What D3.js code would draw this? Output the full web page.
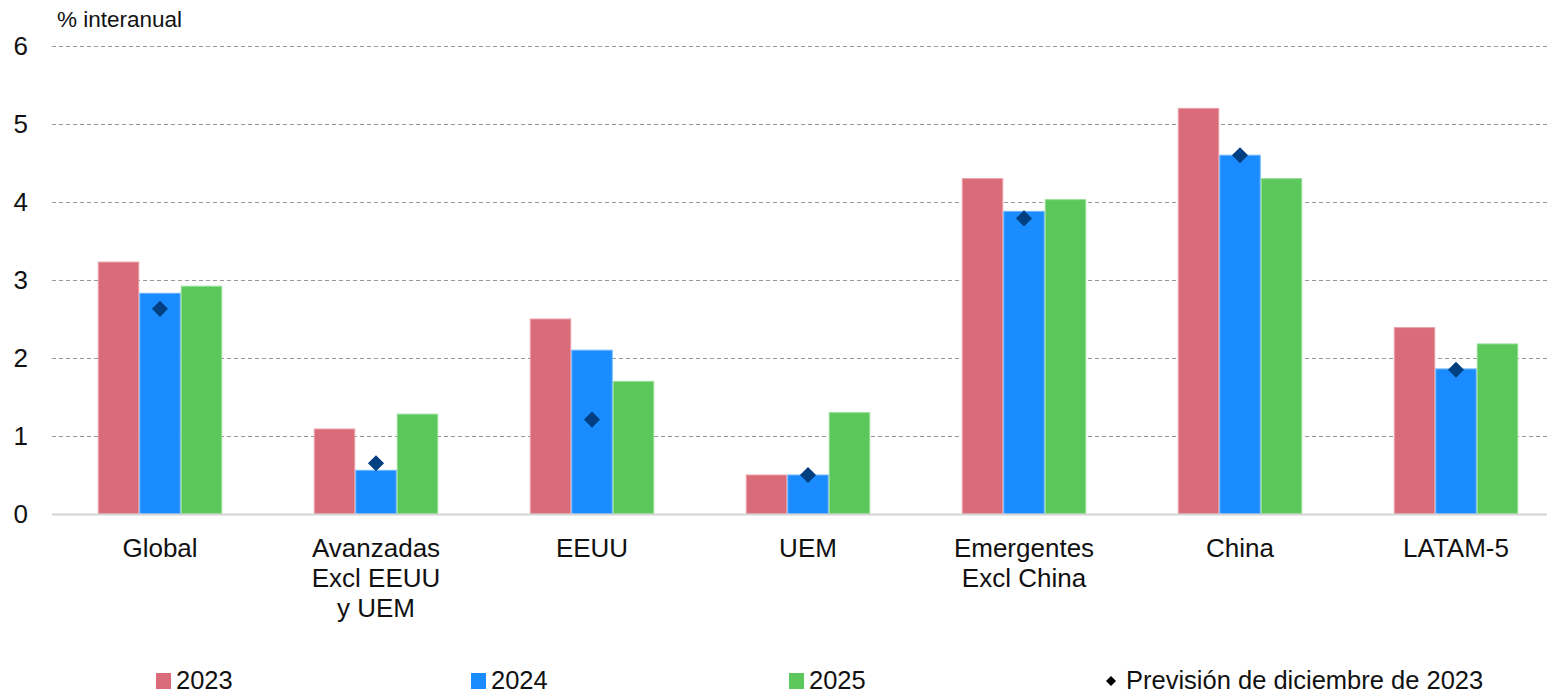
<!DOCTYPE html>
<html>
<head>
<meta charset="utf-8">
<script src="https://cdn.jsdelivr.net/npm/d3@7"></script>
<style>
  html, body { margin: 0; padding: 0; background: #fff; }
  svg { display: block; font-family: "Liberation Sans", Arial, Helvetica, sans-serif; }
</style>
</head>
<body>
<svg id="chart" width="1547" height="695"></svg>
<script>
const categories = ["Global", "Avanzadas\nExcl EEUU\ny UEM", "EEUU", "UEM", "Emergentes\nExcl China", "China", "LATAM-5"];
const seriesNames = ["2023", "2024", "2025"];
const values2023 = [3.23, 1.09, 2.50, 0.50, 4.30, 5.20, 2.39];
const values2024 = [2.83, 0.56, 2.10, 0.50, 3.88, 4.60, 1.86];
const values2025 = [2.92, 1.28, 1.70, 1.30, 4.03, 4.30, 2.18];
const forecastDec2023 = [2.63, 0.65, 1.21, 0.50, 3.79, 4.60, 1.85];
const yTicks = [0, 1, 2, 3, 4, 5, 6];
const unitLabel = "% interanual";
const forecastLabel = "Previsión de diciembre de 2023";

const colors = { "2023": "#DA6B79", "2024": "#1B8CFF", "2025": "#5CC85C" };
const strokes = { "2023": "#EAA0A9", "2024": "#6FB5FF", "2025": "#94DD94" };
const diamondColor = "#003F80";

const seriesValues = { "2023": values2023, "2024": values2024, "2025": values2025 };

const svg = d3.select("#chart");
const margin = { left: 52, right: 1564, top: 46, bottom: 514 };

const x = d3.scaleBand().domain(categories).range([margin.left, margin.right])
  .paddingInner(0.424).paddingOuter(0.212);
const xs = d3.scaleBand().domain(seriesNames).range([0, x.bandwidth()]).padding(0);
const y = d3.scaleLinear().domain([0, 6]).range([margin.bottom, margin.top]);

// Gridlines
const grid = svg.append("g");
grid.selectAll("line").data(yTicks.filter(d => d > 0)).join("line")
  .attr("x1", margin.left).attr("x2", 1547)
  .attr("y1", d => Math.round(y(d)) + 0.5).attr("y2", d => Math.round(y(d)) + 0.5)
  .attr("stroke", "#9a9a9a").attr("stroke-width", 1).attr("stroke-dasharray", "4,3");

// Y axis
const yAxis = svg.append("g").attr("transform", "translate(28,0)")
  .call(d3.axisLeft(y).tickValues(yTicks).tickSize(0).tickPadding(0).tickFormat(d3.format("d")));
yAxis.select(".domain").remove();
yAxis.selectAll("text").attr("font-size", 26).attr("fill", "#111").attr("font-family", "Liberation Sans, Arial, sans-serif");

// Unit label
svg.append("text").attr("x", 57).attr("y", 27).attr("font-size", 22.5).attr("fill", "#111").text(unitLabel);

// Bars
const groups = svg.append("g").selectAll("g").data(categories).join("g")
  .attr("transform", d => `translate(${x(d)},0)`);
groups.selectAll("rect").data((c, i) => seriesNames.map(s => ({ s, v: seriesValues[s][i] }))).join("rect")
  .attr("x", d => xs(d.s) + 0.5)
  .attr("width", xs.bandwidth() - 1)
  .attr("y", d => y(d.v))
  .attr("height", d => y(0) - y(d.v))
  .attr("fill", d => colors[d.s])
  .attr("stroke", d => strokes[d.s])
  .attr("stroke-width", 1);

// Zero axis line
svg.append("line").attr("x1", margin.left).attr("x2", 1547)
  .attr("y1", y(0) + 0.5).attr("y2", y(0) + 0.5)
  .attr("stroke", "#d4d4d4").attr("stroke-width", 2);

// Forecast diamonds
const dsym = d3.symbol().type(d3.symbolDiamond2).size(165);
svg.append("g").selectAll("path").data(forecastDec2023).join("path")
  .attr("d", dsym)
  .attr("transform", (d, i) => `translate(${x(categories[i]) + xs("2024") + xs.bandwidth() / 2},${y(d)})`)
  .attr("fill", diamondColor);

// X axis labels
const xAxis = svg.append("g").attr("transform", `translate(0,${y(0)})`)
  .call(d3.axisBottom(x).tickSize(0).tickPadding(0));
xAxis.select(".domain").remove();
xAxis.selectAll("text").each(function (d) {
  const t = d3.select(this);
  t.text(null).attr("y", 0).attr("dy", null)
    .attr("font-size", 26).attr("fill", "#111").attr("font-family", "Liberation Sans, Arial, sans-serif");
  d.split("\n").forEach((line, k) => {
    t.append("tspan").attr("x", 0).attr("y", 43 + k * 30).text(line);
  });
});

// Legend
const legend = svg.append("g");
const legendItems = [
  { name: "2023", x: 156 },
  { name: "2024", x: 471 },
  { name: "2025", x: 789 }
];
legendItems.forEach(it => {
  legend.append("rect").attr("x", it.x).attr("y", 673).attr("width", 15).attr("height", 16).attr("fill", colors[it.name]);
  legend.append("text").attr("x", it.x + 20).attr("y", 689).attr("font-size", 25.5).attr("fill", "#111").text(it.name);
});
legend.append("path").attr("d", d3.symbol().type(d3.symbolDiamond2).size(64))
  .attr("transform", "translate(1111,681)").attr("fill", "#000");
legend.append("text").attr("x", 1126).attr("y", 689).attr("font-size", 25.5).attr("fill", "#111").text(forecastLabel);
</script>
</body>
</html>
